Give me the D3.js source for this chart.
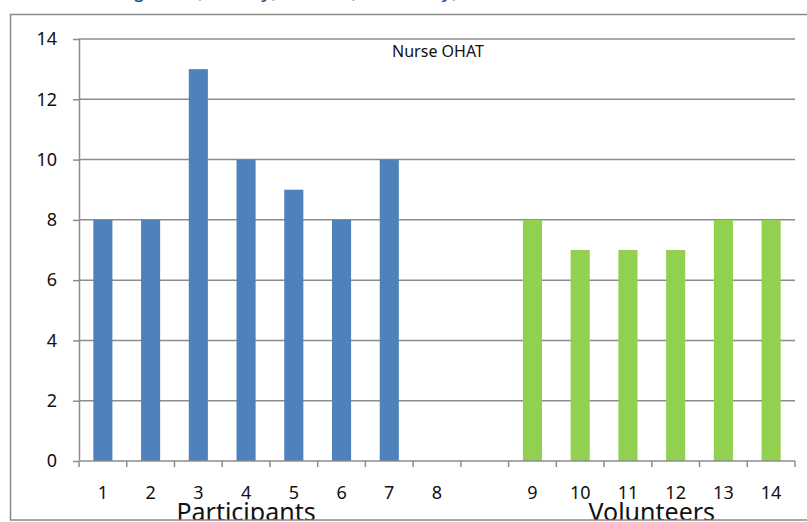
<!DOCTYPE html>
<html>
<head>
<meta charset="utf-8">
<script src="https://cdn.jsdelivr.net/npm/d3@7"></script>
<style>
  body { margin: 0; background: #fff; }
  svg { display: block; font-family: "Noto Sans", "Open Sans", sans-serif; }
</style>
</head>
<body>
<div id="chart"></div>
<script>
// chart values
const categories = ["1", "2", "3", "4", "5", "6", "7", "8", "", "9", "10", "11", "12", "13", "14"];
const participants = [8, 8, 13, 10, 9, 8, 10, null, null, null, null, null, null, null, null];
const volunteers = [null, null, null, null, null, null, null, null, null, 8, 7, 7, 7, 8, 8];
const yTicks = [0, 2, 4, 6, 8, 10, 12, 14];
const groups = [
  { name: "Participants", from: 0, to: 7 },
  { name: "Volunteers", from: 9, to: 15 }
];
const title = "Nurse OHAT";
const caption = "Nursing care (healthy) versus (secondary),";

const width = 807, height = 522;
const margin = { top: 39, right: 12, bottom: 61, left: 79 };

const svg = d3.select("#chart").append("svg")
  .attr("width", width)
  .attr("height", height);

// clip for the chart box (group titles run under the bottom edge)
svg.append("clipPath")
  .attr("id", "box")
  .append("rect")
  .attr("x", 0).attr("y", 0)
  .attr("width", width).attr("height", 519.5);

// caption line of the page above, only its descenders show
svg.append("text")
  .attr("x", 70)
  .attr("y", -3)
  .attr("fill", "#1f4e8c")
  .attr("font-size", 20)
  .text(caption);

// chart frame
svg.append("rect")
  .attr("x", 10.5)
  .attr("y", 14.5)
  .attr("width", width)
  .attr("height", 505.5)
  .attr("fill", "none")
  .attr("stroke", "#8a8a8a")
  .attr("stroke-width", 1.5);

const idx = d3.range(categories.length);

// slots for ticks and labels
const x = d3.scaleBand()
  .domain(idx)
  .range([margin.left, width - margin.right]);

// bars inside the slots
const xBar = d3.scaleBand()
  .domain(idx)
  .range([margin.left, width - margin.right])
  .paddingInner(0.6)
  .paddingOuter(0.3);

const y = d3.scaleLinear()
  .domain([0, 14])
  .range([height - margin.bottom, margin.top]);

// gridlines
svg.append("g")
  .selectAll("line")
  .data(yTicks.filter(d => d > 0))
  .join("line")
  .attr("x1", margin.left)
  .attr("x2", width - margin.right)
  .attr("y1", d => y(d))
  .attr("y2", d => y(d))
  .attr("stroke", "#8c8c8c")
  .attr("stroke-width", 1.5);

// bars
const series = [
  { values: participants, color: "#4f81bd" },
  { values: volunteers, color: "#92d050" }
];
series.forEach(s => {
  svg.append("g")
    .selectAll("rect")
    .data(idx.filter(i => s.values[i] != null))
    .join("rect")
    .attr("x", i => xBar(i))
    .attr("width", xBar.bandwidth())
    .attr("y", i => y(s.values[i]))
    .attr("height", i => y(0) - y(s.values[i]))
    .attr("fill", s.color);
});

// y axis
const yAxis = svg.append("g")
  .attr("transform", `translate(${margin.left},0)`)
  .call(d3.axisLeft(y).tickValues(yTicks).tickSize(6).tickPadding(16));
yAxis.select(".domain").attr("stroke", "#8c8c8c").attr("stroke-width", 1.5)
  .attr("d", `M0.5,${y(0)}V${y(14)}`);
yAxis.selectAll(".tick line").attr("stroke", "#8c8c8c").attr("stroke-width", 1.5);
yAxis.selectAll(".tick text")
  .attr("font-size", 18)
  .attr("font-family", "'Noto Sans', sans-serif")
  .attr("fill", "#111");

// x axis: ticks at slot boundaries
const xAxis = svg.append("g");
xAxis.append("line")
  .attr("x1", margin.left)
  .attr("x2", width - margin.right)
  .attr("y1", y(0))
  .attr("y2", y(0))
  .attr("stroke", "#8c8c8c")
  .attr("stroke-width", 1.5);
xAxis.selectAll("line.tick")
  .data(d3.range(categories.length + 1))
  .join("line")
  .attr("class", "tick")
  .attr("x1", i => i < categories.length ? x(i) : x(i - 1) + x.bandwidth())
  .attr("x2", i => i < categories.length ? x(i) : x(i - 1) + x.bandwidth())
  .attr("y1", y(0))
  .attr("y2", y(0) + 6)
  .attr("stroke", "#8c8c8c")
  .attr("stroke-width", 1.5);
xAxis.selectAll("text")
  .data(idx)
  .join("text")
  .attr("x", i => x(i) + x.bandwidth() / 2)
  .attr("y", 499)
  .attr("text-anchor", "middle")
  .attr("font-size", 18)
  .attr("fill", "#111")
  .text(i => categories[i]);

// group titles under the axis, cut by the box edge
svg.append("g")
  .attr("clip-path", "url(#box)")
  .selectAll("text")
  .data(groups)
  .join("text")
  .attr("x", g => (x(g.from) + x(g.to - 1) + x.bandwidth()) / 2)
  .attr("y", 521)
  .attr("text-anchor", "middle")
  .attr("font-size", 25)
  .attr("fill", "#111")
  .text(g => g.name);

// chart title
svg.append("text")
  .attr("x", 438)
  .attr("y", 57)
  .attr("text-anchor", "middle")
  .attr("font-size", 16)
  .attr("fill", "#111")
  .text(title);
</script>
</body>
</html>
